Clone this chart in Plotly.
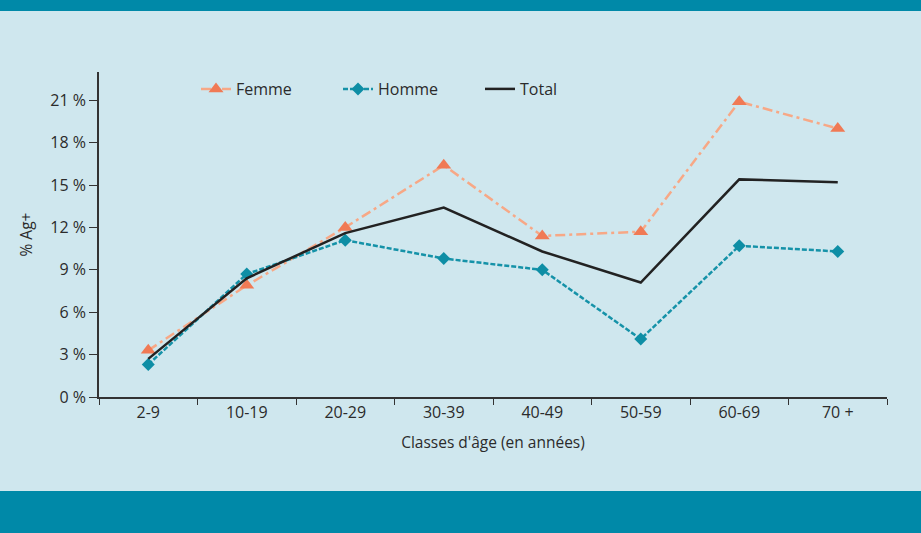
import plotly.graph_objects as go

# Age classes and percentage of positive results per group
categories = ["2-9", "10-19", "20-29", "30-39", "40-49", "50-59", "60-69", "70 +"]
femme = [3.3, 7.9, 12.0, 16.4, 11.4, 11.7, 20.9, 19.0]
homme = [2.3, 8.7, 11.1, 9.8, 9.0, 4.1, 10.7, 10.3]
total = [2.7, 8.4, 11.6, 13.4, 10.3, 8.1, 15.4, 15.2]

BG = "#CFE7EE"
BAND = "#0089A8"
TXT = "#2b2b2b"
FONT = "Open Sans"

fig = go.Figure()
fig.add_trace(go.Scatter(
    x=categories, y=femme, name="Femme", mode="lines+markers",
    line=dict(color="#F7A886", width=2.5, dash="10px,4px,3px,4px"),
    marker=dict(symbol="triangle-up", size=13, color="#F07A55"),
))
fig.add_trace(go.Scatter(
    x=categories, y=homme, name="Homme", mode="lines+markers",
    line=dict(color="#1592A8", width=2.5, dash="5px,2px"),
    marker=dict(symbol="diamond", size=10, color="#0E8EA5"),
))
fig.add_trace(go.Scatter(
    x=categories, y=total, name="Total", mode="lines",
    line=dict(color="#222222", width=2.5),
))

# Teal header and footer bands
fig.add_shape(type="rect", xref="paper", yref="paper",
              x0=-0.2, x1=1.1, y0=(397 - 11) / 325, y1=1.3,
              fillcolor=BAND, line_width=0, layer="below")
fig.add_shape(type="rect", xref="paper", yref="paper",
              x0=-0.2, x1=1.1, y0=-0.6, y1=(397 - 491) / 325,
              fillcolor=BAND, line_width=0, layer="below")

fig.update_layout(
    width=921, height=533,
    margin=dict(l=99, r=34, t=72, b=136),
    paper_bgcolor=BG, plot_bgcolor=BG,
    font=dict(family=FONT, size=16, color=TXT),
    showlegend=True,
    legend=dict(
        orientation="h", x=(196 - 99) / 788, xanchor="left",
        y=(397 - 89) / 325, yanchor="middle",
        bgcolor="rgba(0,0,0,0)", font=dict(size=16, color=TXT),
        entrywidth=97, entrywidthmode="pixels",
    ),
    xaxis=dict(
        type="category", range=[-0.5, 7.5],
        showline=True, linecolor="#333", linewidth=1.5,
        ticks="outside", tickson="boundaries", ticklen=6, tickcolor="#333",
        showgrid=False, zeroline=False,
        title=dict(text="Classes d'âge (en années)", font=dict(size=15.5), standoff=15),
        tickfont=dict(size=16),
    ),
    yaxis=dict(
        range=[0, 23], dtick=3, tick0=0, ticksuffix=" %",
        showline=True, linecolor="#333", linewidth=1.5,
        ticks="outside", ticklen=8, tickcolor="#333",
        showgrid=False, zeroline=False,
        title=dict(text="% Ag+", font=dict(size=15.5), standoff=14),
        tickfont=dict(size=16),
    ),
)

fig.write_html("out.html")
